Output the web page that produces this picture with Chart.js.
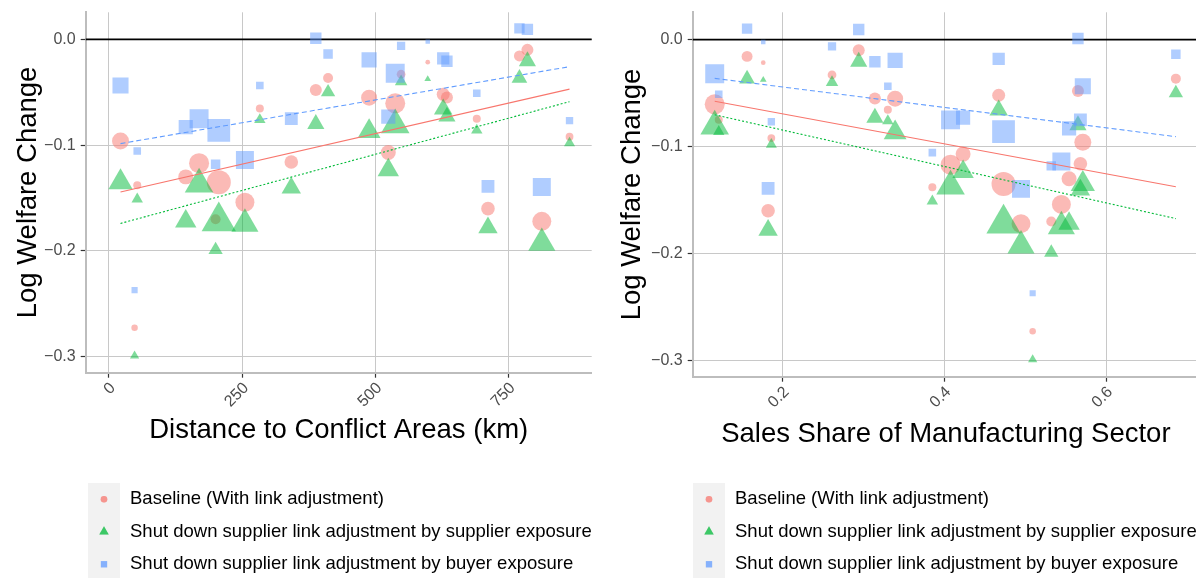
<!DOCTYPE html>
<html>
<head>
<meta charset="utf-8">
<title>Welfare change by region</title>
<script src="https://cdn.jsdelivr.net/npm/chart.js@4.4.1/dist/chart.umd.min.js"></script>
<style>
  html, body { margin: 0; padding: 0; background: #fff; overflow: hidden; }
  .panel { position: absolute; top: 0; width: 600px; height: 578px; }
  #leftPanel { left: 0; }
  #rightPanel { left: 600px; }
</style>
</head>
<body>
<div class="panel" id="leftPanel"><canvas id="distChart"></canvas></div>
<div class="panel" id="rightPanel"><canvas id="shareChart"></canvas></div>
<script>
// one entry per region
const distanceKm   = [21.6, 53, 144, 169, 206, 200, 255, 283, 342, 388, 411, 488, 537, 548, 524, 598, 627, 634, 690, 711, 770, 785, 812, 864, 48];
const manufShare   = [0.571, 0.385, 0.554, 0.4075, 0.473, 0.532, 0.5445, 0.330, 0.568, 0.565, 0.686, 0.339, 0.116, 0.261, 0.423, 0.176, 0.467, 0.314, 0.121, 0.182, 0.156, 0.294, 0.4946, 0.186, 0.509];
const baseline     = [-0.096, -0.138, -0.130, -0.117, -0.135, -0.170, -0.154, -0.0655, -0.116, -0.048, -0.0365, -0.0552, -0.0605, -0.033, -0.107, -0.0216, -0.052, -0.055, -0.075, -0.160, -0.0157, -0.010, -0.172, -0.092, -0.2725];
const supplierShut = [-0.135, -0.151, -0.172, -0.137, -0.172, -0.199, -0.1745, -0.076, -0.1405, -0.080, -0.050, -0.087, -0.081, -0.040, -0.1235, -0.0376, -0.066, -0.073, -0.086, -0.178, -0.0367, -0.0207, -0.1925, -0.098, -0.299];
const buyerShut    = [-0.0436, -0.1056, -0.083, -0.075, -0.086, -0.118, -0.114, -0.0436, -0.075, 0.001, -0.0138, -0.0194, -0.032, -0.0063, -0.073, -0.0022, -0.018, -0.0207, -0.051, -0.139, 0.0103, 0.0094, -0.1395, -0.0768, -0.237];
const regionWeight = [72, 16, 56, 100, 144, 25, 90, 16, 46, 36, 25, 64, 100, 19, 56, 5.5, 42, 36, 16, 46, 30, 36, 90, 15, 10.5];

const seriesLabels = [
  'Baseline (With link adjustment)',
  'Shut down supplier link adjustment by supplier exposure',
  'Shut down supplier link adjustment by buyer exposure'
];
const distTicks  = [0, 250, 500, 750];
const shareTicks = [0.2, 0.4, 0.6];
const yTicks     = [0, -0.1, -0.2, -0.3];

const FONT = "'Liberation Sans', Arial, Helvetica, sans-serif";
const fills = ['rgba(248,118,109,0.5)', 'rgba(0,186,56,0.5)', 'rgba(97,156,255,0.5)'];
const strokes = ['#F8766D', '#00BA38', '#619CFF'];
const shapes = ['circle', 'triangle', 'rect'];
// radius multipliers so the three shapes look like ggplot's 19/17/15
const shapeScale = [1, 1.65, 1.34];

function olsLine(xs, ys) {
  const n = xs.length;
  const mx = xs.reduce((a, b) => a + b, 0) / n;
  const my = ys.reduce((a, b) => a + b, 0) / n;
  let sxy = 0, sxx = 0;
  xs.forEach((x, i) => { sxy += (x - mx) * (ys[i] - my); sxx += (x - mx) * (x - mx); });
  const b = sxy / sxx, a = my - b * mx;
  const x0 = Math.min(...xs), x1 = Math.max(...xs);
  return [{ x: x0, y: a + b * x0 }, { x: x1, y: a + b * x1 }];
}

// drop the label overhang padding chart.js adds, so the plot box sits where the layout says
function noScalePadding(axis) {
  axis.paddingLeft = 0;
  axis.paddingRight = 0;
  axis.paddingTop = 0;
  axis.paddingBottom = 0;
}

// black reference line at zero
const zeroLine = {
  id: 'zeroLine',
  beforeDatasetsDraw(chart) {
    const { ctx, chartArea } = chart;
    const y = chart.scales.y.getPixelForValue(0);
    ctx.save();
    ctx.strokeStyle = '#000';
    ctx.lineWidth = 1.8;
    ctx.beginPath();
    ctx.moveTo(chartArea.left, y);
    ctx.lineTo(chartArea.right, y);
    ctx.stroke();
    ctx.restore();
  }
};

// legend under the panel, keys on a grey strip
const keyLegend = {
  id: 'keyLegend',
  afterDraw(chart, args, opts) {
    const ctx = chart.ctx;
    const left = opts.left, top = 483, rowH = 32.5, keyW = 32;
    ctx.save();
    ctx.fillStyle = '#F2F2F2';
    ctx.fillRect(left, top, keyW, rowH * 3);
    seriesLabels.forEach((label, i) => {
      const cy = top + rowH * (i + 0.5);
      ctx.fillStyle = fills[i];
      Chart.helpers.drawPoint(ctx, {
        pointStyle: shapes[i], radius: 3.3 * shapeScale[i], rotation: 0, borderWidth: 0
      }, left + keyW / 2, cy);
      ctx.fill();
      ctx.fillStyle = '#000';
      ctx.font = '18.5px ' + FONT;
      ctx.textBaseline = 'middle';
      ctx.textAlign = 'left';
      ctx.fillText(label, left + 42, cy);
    });
    ctx.restore();
  }
};

function buildChart(canvasId, xs, cfg) {
  const pointSets = [baseline, supplierShut, buyerShut].map((ys, i) => ({
    type: 'scatter',
    label: seriesLabels[i],
    data: xs.map((x, k) => ({ x: x, y: ys[k] })),
    pointStyle: shapes[i],
    backgroundColor: fills[i],
    borderWidth: 0,
    pointRadius: ctx => Math.sqrt(regionWeight[ctx.dataIndex]) * shapeScale[i],
    order: 6 - i
  }));
  const dashes = [[], [2, 2], [5, 3]];
  const fitSets = [baseline, supplierShut, buyerShut].map((ys, i) => ({
    type: 'line',
    label: 'fit ' + i,
    data: olsLine(xs, ys),
    borderColor: strokes[i],
    borderWidth: 1.1,
    borderDash: dashes[i],
    pointRadius: 0,
    fill: false,
    order: 1
  }));

  return new Chart(document.getElementById(canvasId), {
    type: 'scatter',
    data: { datasets: pointSets.concat(fitSets) },
    plugins: [zeroLine, keyLegend],
    options: {
      responsive: true,
      maintainAspectRatio: false,
      animation: false,
      events: [],
      layout: {
        autoPadding: false,
        padding: { left: 0, top: 12.3, right: cfg.padRight, bottom: 578 - cfg.bottom - 80 }
      },
      plugins: {
        legend: { display: false },
        tooltip: { enabled: false },
        keyLegend: { left: cfg.legendLeft }
      },
      scales: {
        x: {
          type: 'linear',
          min: cfg.xMin,
          max: cfg.xMax,
          afterBuildTicks: axis => { axis.ticks = cfg.xTicks.map(v => ({ value: v })); },
          afterFit: axis => { axis.height = 80; noScalePadding(axis); },
          grid: { color: '#C8C8C8', lineWidth: 1, tickColor: '#333', tickLength: 5, tickWidth: 1.2 },
          border: { color: '#BDBDBD', width: 2 },
          ticks: {
            minRotation: 45, maxRotation: 45, padding: 1, labelOffset: 4,
            color: '#4D4D4D', font: { family: FONT, size: 16 },
            callback: v => cfg.xFormat(v)
          },
          title: {
            display: true, text: cfg.xTitle, color: '#000',
            font: { family: FONT, size: 27.5 }, padding: { top: 0, bottom: 6 }
          }
        },
        y: {
          type: 'linear',
          min: -0.315,
          max: 0.0255,
          afterBuildTicks: axis => { axis.ticks = yTicks.map(v => ({ value: v })); },
          afterFit: axis => { axis.width = cfg.yWidth; noScalePadding(axis); },
          grid: { color: '#C8C8C8', lineWidth: 1, tickColor: '#333', tickLength: 5, tickWidth: 1.2 },
          border: { color: '#BDBDBD', width: 2 },
          ticks: {
            padding: 5, color: '#4D4D4D', font: { family: FONT, size: 16 },
            callback: v => v.toFixed(1).replace('-', '\u2212')
          },
          title: {
            display: true, text: 'Log Welfare Change', color: '#000',
            font: { family: FONT, size: 27.5 }, padding: { top: cfg.yTitlePad, bottom: 0 }
          }
        }
      }
    }
  });
}

buildChart('distChart', distanceKm, {
  xMin: -43.7, xMax: 905.6, xTicks: distTicks, xFormat: v => String(v),
  xTitle: 'Distance to Conflict Areas (km)',
  yWidth: 85.7, padRight: 8.3, bottom: 372.7, yTitlePad: 11.5, legendLeft: 88
});

buildChart('shareChart', manufShare, {
  xMin: 0.0888, xMax: 0.7146, xTicks: shareTicks, xFormat: v => v.toFixed(1),
  xTitle: 'Sales Share of Manufacturing Sector',
  yWidth: 92.7, padRight: 1, bottom: 376.7, yTitlePad: 15.5, legendLeft: 93
});
</script>
</body>
</html>
